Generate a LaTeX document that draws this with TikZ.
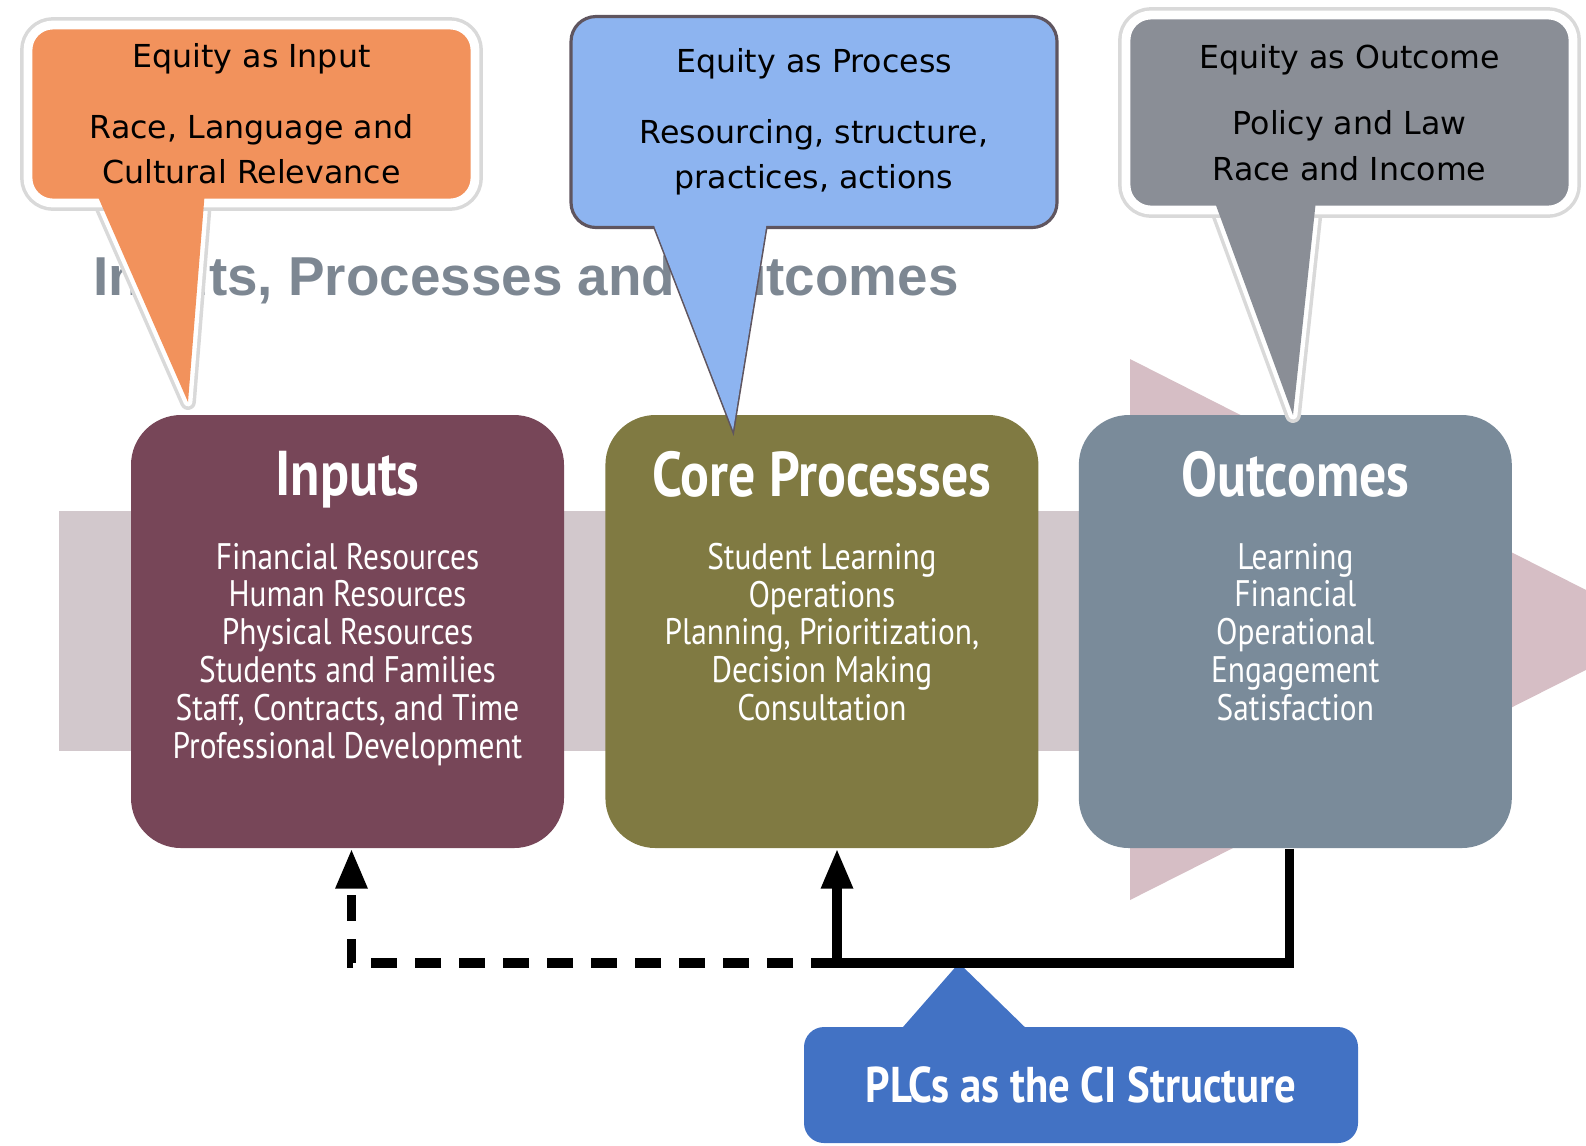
\documentclass[tikz,border=0pt]{standalone}
\usepackage{fontspec}
\setmainfont{DejaVu Sans}
\newfontfamily\boxfont[FakeStretch=0.85]{PT Sans}
\newfontfamily\titlefont{Liberation Sans}
\usetikzlibrary{positioning,arrows.meta}
\definecolor{inputred}{RGB}{119,70,88}
\definecolor{coreolive}{RGB}{128,122,66}
\definecolor{outslate}{RGB}{122,139,154}
\definecolor{shaftpink}{RGB}{210,200,204}
\definecolor{headpink}{RGB}{214,190,197}
\definecolor{titlegray}{RGB}{125,135,146}
\definecolor{eqorange}{RGB}{242,146,92}
\definecolor{eqblue}{RGB}{141,180,240}
\definecolor{eqgray}{RGB}{138,142,150}
\definecolor{plcblue}{RGB}{66,114,196}
\definecolor{bluerim}{RGB}{95,85,95}
\tikzset{
  flowbox/.style={rounded corners=0.5cm, minimum width=4.33cm, minimum height=4.33cm, inner sep=0pt},
  boxtitle/.style={text=white, inner sep=0pt, font=\boxfont\bfseries\fontsize{18}{20}\selectfont},
  boxlist/.style={text=white, align=center, inner sep=0pt, font=\boxfont\fontsize{10.5}{10.76}\selectfont},
  callout/.style={rounded corners=0.25cm, align=center, inner sep=0pt, font=\fontsize{9}{13}\selectfont},
  halo/.style={draw=white, line width=2.5pt, line join=round, preaction={draw=black!15, line width=4.5pt, line join=round}},
  feedback/.style={line width=2.6pt},
  dashback/.style={feedback, dash pattern=on 0.26cm off 0.18cm},
  upto/.style={-{Triangle[length=0.4cm,width=0.3cm]}},
}
\begin{document}
\begin{tikzpicture}
  \useasboundingbox (0,0) rectangle (15.86,-11.45);
  \fill[shaftpink] (0.59,-5.11) rectangle (11.30,-7.51);
  \fill[headpink] (11.30,-3.59) -- (16.65,-6.30) -- (11.30,-9.00) -- cycle;

  \node[font=\titlefont\bfseries\fontsize{15.6}{18}\selectfont, text=titlegray] (title) at (5.26,-2.81) {Inputs, Processes and Outcomes};

  \node[flowbox, fill=inputred] (inp) at (3.475,-6.315) {};
  \node[flowbox, fill=coreolive, right=0.40cm of inp] (core) {};
  \node[flowbox, fill=outslate, right=0.39cm of core] (outc) {};

  \node[boxtitle, below=0.36cm of inp.north] (inptitle) {Inputs};
  \node[boxtitle, below=0.36cm of core.north] (coretitle) {Core Processes};
  \node[boxtitle, below=0.36cm of outc.north] (outctitle) {Outcomes};
  \node[boxlist, below=1.28cm of inp.north] (inplist) {Financial Resources\\Human Resources\\Physical Resources\\Students and Families\\Staff, Contracts, and Time\\Professional Development};
  \node[boxlist, below=1.28cm of core.north] (corelist) {Student Learning\\Operations\\Planning, Prioritization,\\Decision Making\\Consultation};
  \node[boxlist, below=1.28cm of outc.north] (outclist) {Learning\\Financial\\Operational\\Engagement\\Satisfaction};

  \coordinate (inl) at (0.95,-1.90);
  \coordinate (inr) at (2.05,-1.90);
  \coordinate (intip) at (1.88,-4.02);
  \draw[halo, fill=eqorange] (inl) -- (intip) -- (inr);
  \node[callout, fill=eqorange, halo, minimum width=4.47cm, minimum height=1.78cm] (eqin) at (2.515,-1.14)
    {Equity as Input\\[7pt]Race, Language and\\Cultural Relevance};
  \fill[eqorange] (inl) -- (intip) -- (inr) -- cycle;

  \coordinate (prl) at (6.50,-2.15);
  \coordinate (prr) at (7.68,-2.15);
  \coordinate (prtip) at (7.33,-4.30);
  \draw[bluerim, line width=0.9pt, fill=eqblue] (prl) -- (prtip) -- (prr);
  \node[callout, fill=eqblue, draw=bluerim, line width=0.9pt, minimum width=4.86cm, minimum height=2.11cm] (eqproc) at (8.14,-1.22)
    {Equity as Process\\[7pt]Resourcing, structure,\\practices, actions};
  \fill[eqblue] (prl) -- (prtip) -- (prr) -- cycle;

  \coordinate (oul) at (12.14,-2.00);
  \coordinate (our) at (13.16,-2.00);
  \coordinate (outip) at (12.93,-4.15);
  \draw[halo, fill=eqgray] (oul) -- (outip) -- (our);
  \node[callout, fill=eqgray, halo, minimum width=4.47cm, minimum height=1.95cm] (eqout) at (13.495,-1.125)
    {Equity as Outcome\\[6pt]Policy and Law\\Race and Income};
  \fill[eqgray] (oul) -- (outip) -- (our) -- cycle;

  \node[rounded corners=0.2cm, fill=plcblue, text=white, inner sep=0pt, minimum width=5.54cm, minimum height=1.16cm,
    font=\boxfont\bfseries\fontsize{14.3}{16}\selectfont] (plc) at (10.81,-10.85) {PLCs as the CI Structure};
  \fill[plcblue] (8.96,-10.35) -- (9.59,-9.63) -- (10.33,-10.35) -- cycle;

  \coordinate (jn) at (8.37,-9.63);
  \draw[feedback] ([xshift=-0.06cm]outc.south) |- (jn);
  \draw[feedback, upto] (jn) -- (jn |- core.south);
  \draw[dashback, upto] (jn) -| ([xshift=0.04cm]inp.south);
\end{tikzpicture}
\end{document}
